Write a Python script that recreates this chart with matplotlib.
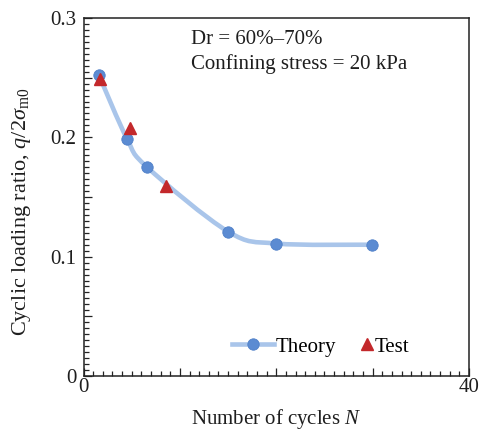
import matplotlib
matplotlib.use("Agg")
import matplotlib.pyplot as plt
from matplotlib.path import Path
from matplotlib.patches import PathPatch
from matplotlib.lines import Line2D
from matplotlib.ticker import MultipleLocator, FuncFormatter

plt.rcParams['font.family'] = ['Liberation Serif', 'DejaVu Serif']
plt.rcParams['mathtext.fontset'] = 'custom'
plt.rcParams['mathtext.rm'] = 'Liberation Serif'
plt.rcParams['mathtext.it'] = 'Liberation Serif:italic'

# ---- data ----
theory_N = [1.6, 4.5, 6.6, 15.0, 20.0, 29.9]
theory_ratio = [0.252, 0.199, 0.175, 0.121, 0.111, 0.110]
test_N = [1.7, 4.8, 8.6]
test_ratio = [0.249, 0.208, 0.159]
x_labels = {0: "0", 40: "40"}
y_labels = {0.0: "0", 0.1: "0.1", 0.2: "0.2", 0.3: "0.3"}

line_color = "#a9c5ea"
circ_color = "#5b8bd2"
tri_color = "#c3282b"
txt_color = "#1e1e1e"
FS = 15

fig = plt.figure(figsize=(4.8, 4.3), dpi=100)
ax = fig.add_axes([0.174, 0.1256, 0.803, 0.8326])

# smooth theory curve (Catmull-Rom rendered as Bezier path)
pts = list(zip(theory_N, theory_ratio))
ext = [pts[0]] + pts + [pts[-1]]
verts = [pts[0]]
codes = [Path.MOVETO]
for i in range(1, len(ext) - 2):
    p0, p1, p2, p3 = ext[i - 1], ext[i], ext[i + 1], ext[i + 2]
    c1 = (p1[0] + (p2[0] - p0[0]) / 6, p1[1] + (p2[1] - p0[1]) / 6)
    c2 = (p2[0] - (p3[0] - p1[0]) / 6, p2[1] - (p3[1] - p1[1]) / 6)
    verts += [c1, c2, p2]
    codes += [Path.CURVE4] * 3
ax.add_patch(PathPatch(Path(verts, codes), facecolor="none", edgecolor=line_color,
                       lw=3.3, capstyle="round", zorder=2))
ax.plot(theory_N, theory_ratio, ls="none", marker="o", ms=8.2, color=circ_color,
        mec="#4f80c8", mew=0.6, zorder=3)
ax.plot(test_N, test_ratio, ls="none", marker="^", ms=9, color=tri_color,
        mec=tri_color, zorder=4)

ax.set_xlim(0, 40)
ax.set_ylim(0, 0.3)
ax.xaxis.set_major_locator(MultipleLocator(10))
ax.xaxis.set_minor_locator(MultipleLocator(1))
ax.yaxis.set_major_locator(MultipleLocator(0.05))
ax.yaxis.set_minor_locator(MultipleLocator(0.005))
ax.xaxis.set_major_formatter(FuncFormatter(
    lambda v, p: x_labels.get(int(round(v)), "") if abs(v - round(v)) < 1e-6 else ""))
ax.yaxis.set_major_formatter(FuncFormatter(
    lambda v, p: y_labels.get(round(v, 2), "") if abs(v * 10 - round(v * 10)) < 1e-6 else ""))
ax.tick_params(which="both", direction="in", width=0.9, colors="#222222",
               labelsize=FS, labelcolor=txt_color)
ax.tick_params(which="major", length=6)
ax.tick_params(which="minor", length=3.5)
ax.tick_params(axis="x", which="major", pad=1.5)
ax.tick_params(axis="y", which="major", pad=5)
for s in ax.spines.values():
    s.set_linewidth(1.1)
    s.set_color("#222222")

ax.set_xlabel("Number of cycles $N$", fontsize=FS, color=txt_color, labelpad=7)
ax.set_ylabel(r"Cyclic loading ratio, $q$/2$\sigma_{\rm m0}$", fontsize=16,
              color=txt_color)
ax.yaxis.set_label_coords(-0.13, 0.46)

ax.text(0.28, 0.928, "Dr = 60%\u201370%", transform=ax.transAxes, fontsize=FS,
        color=txt_color, va="baseline")
ax.text(0.28, 0.858, "Confining stress = 20 kPa", transform=ax.transAxes,
        fontsize=FS, color=txt_color, va="baseline")

h_theory = Line2D([], [], color=line_color, lw=3.3, marker="o", ms=8.2,
                  mfc=circ_color, mec="#4f80c8", mew=0.6)
h_test = Line2D([], [], ls="none", marker="^", ms=8, color=tri_color)
leg1 = ax.legend([h_theory], ["Theory"], loc="center left",
                 bbox_to_anchor=(0.385, 0.081), frameon=False, fontsize=FS,
                 handlelength=2.0, handletextpad=0.12, borderaxespad=0,
                 borderpad=0)
ax.add_artist(leg1)
ax.legend([h_test], ["Test"], loc="center left", bbox_to_anchor=(0.72, 0.081),
          frameon=False, fontsize=FS, handlelength=0.55, handletextpad=0.08,
          borderaxespad=0, borderpad=0)

fig.savefig("out.png", dpi=100)
